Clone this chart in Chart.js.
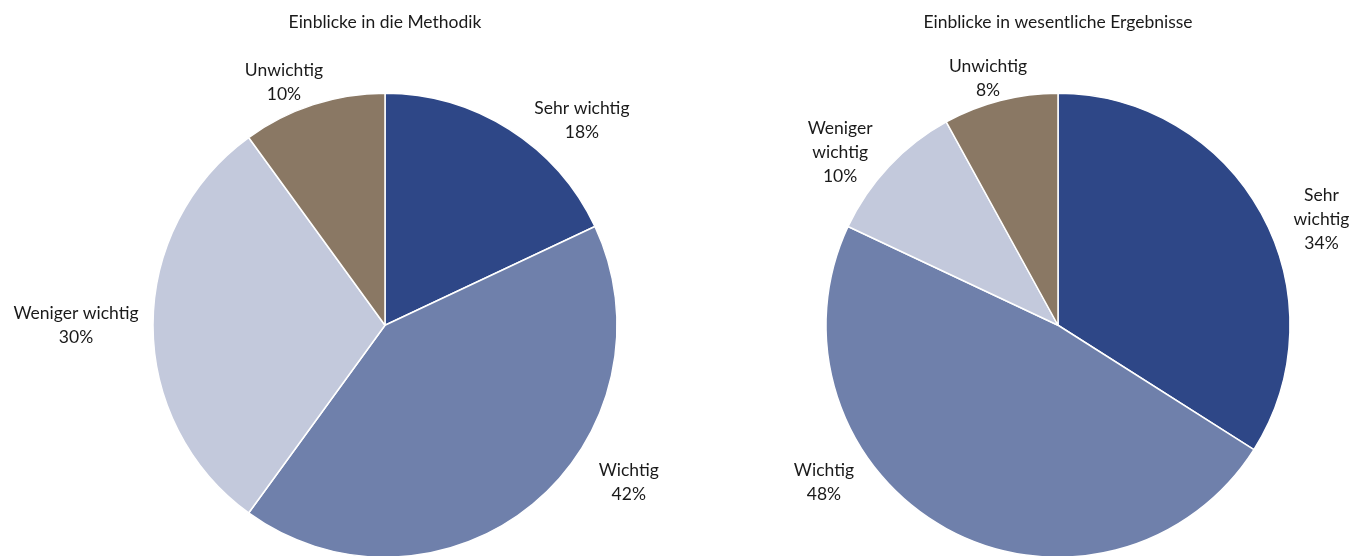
<!DOCTYPE html>
<html lang="de">
<head>
<meta charset="utf-8">
<title>Einblicke</title>
<script src="https://cdn.jsdelivr.net/npm/chart.js@4"></script>
<style>
  html, body { margin: 0; padding: 0; background: #fff; overflow: hidden; }
  .pie-box { position: absolute; top: 0; width: 682px; height: 600px; }
  #box-left { left: 0; }
  #box-right { left: 682px; }
</style>
</head>
<body>
<div class="pie-box" id="box-left"><canvas id="pieLeft"></canvas></div>
<div class="pie-box" id="box-right"><canvas id="pieRight"></canvas></div>

<script>
// ---------------- DATA ----------------
const categories = ["Sehr wichtig", "Wichtig", "Weniger wichtig", "Unwichtig"];
const methodikValues = [18, 42, 30, 10];
const ergebnisseValues = [34, 48, 10, 8];
const methodikTitle = "Einblicke in die Methodik";
const ergebnisseTitle = "Einblicke in wesentliche Ergebnisse";

const sliceColors = ["#2E4787", "#6F80AB", "#C3C9DC", "#8A7864"];

// label placement: angle (deg, clockwise from top) and distance from pie centre
const methodikLabelAngle = [43.9, 122.8, 270, 337.4];
const methodikLabelDist = [284, 290, 309, 263];
const ergebnisseLabelAngle = [68.1, 236.1, 308.4, 344.2];
const ergebnisseLabelDist = [284, 282, 278, 257];

const FONT = "Lato, 'Liberation Sans', sans-serif";

// ---------------- LABEL PLUGIN ----------------
function wrapText(ctx, text, maxWidth) {
  const words = text.split(" ");
  const lines = [];
  let line = "";
  words.forEach(w => {
    const test = line ? line + " " + w : w;
    if (line && ctx.measureText(test).width > maxWidth) {
      lines.push(line);
      line = w;
    } else {
      line = test;
    }
  });
  if (line) lines.push(line);
  return lines;
}

const outsideLabels = {
  id: "outsideLabels",
  afterDatasetsDraw(chart, args, opts) {
    const ctx = chart.ctx;
    const meta = chart.getDatasetMeta(0);
    const values = chart.data.datasets[0].data;
    ctx.save();
    ctx.font = "17.5px " + FONT;
    ctx.fillStyle = "#1a1a1a";
    ctx.textAlign = "center";
    ctx.textBaseline = "middle";
    meta.data.forEach((arc, i) => {
      const a = opts.angles[i] * Math.PI / 180;
      const d = opts.dists[i];
      const cx = arc.x + d * Math.sin(a);
      const cy = arc.y - d * Math.cos(a);
      const lines = wrapText(ctx, chart.data.labels[i], opts.wrap);
      lines.push(values[i] + "%");
      const lh = 24;
      const top = cy - (lines.length - 1) * lh / 2;
      lines.forEach((l, k) => ctx.fillText(l, cx, top + k * lh));
    });
    ctx.restore();
  }
};

// ---------------- CHART ----------------
function makePie(canvasId, title, values, angles, dists, wrap, padLeft, padRight) {
  return new Chart(document.getElementById(canvasId), {
    type: "pie",
    data: {
      labels: categories,
      datasets: [{
        data: values,
        backgroundColor: sliceColors,
        borderColor: "#ffffff",
        borderWidth: 1.5
      }]
    },
    options: {
      responsive: true,
      maintainAspectRatio: false,
      animation: false,
      layout: { padding: { left: padLeft, right: padRight, top: 0, bottom: 42 } },
      plugins: {
        legend: { display: false },
        tooltip: { enabled: false },
        title: {
          display: true,
          text: title,
          color: "#1a1a1a",
          font: { family: FONT, size: 17.5, weight: "normal", lineHeight: 1 },
          padding: { top: 14, bottom: 61 }
        },
        outsideLabels: { angles, dists, wrap }
      }
    },
    plugins: [outsideLabels]
  });
}

makePie("pieLeft", methodikTitle, methodikValues, methodikLabelAngle, methodikLabelDist, 200, 152, 64);
makePie("pieRight", ergebnisseTitle, ergebnisseValues, ergebnisseLabelAngle, ergebnisseLabelDist, 90, 143, 73);
</script>
</body>
</html>
